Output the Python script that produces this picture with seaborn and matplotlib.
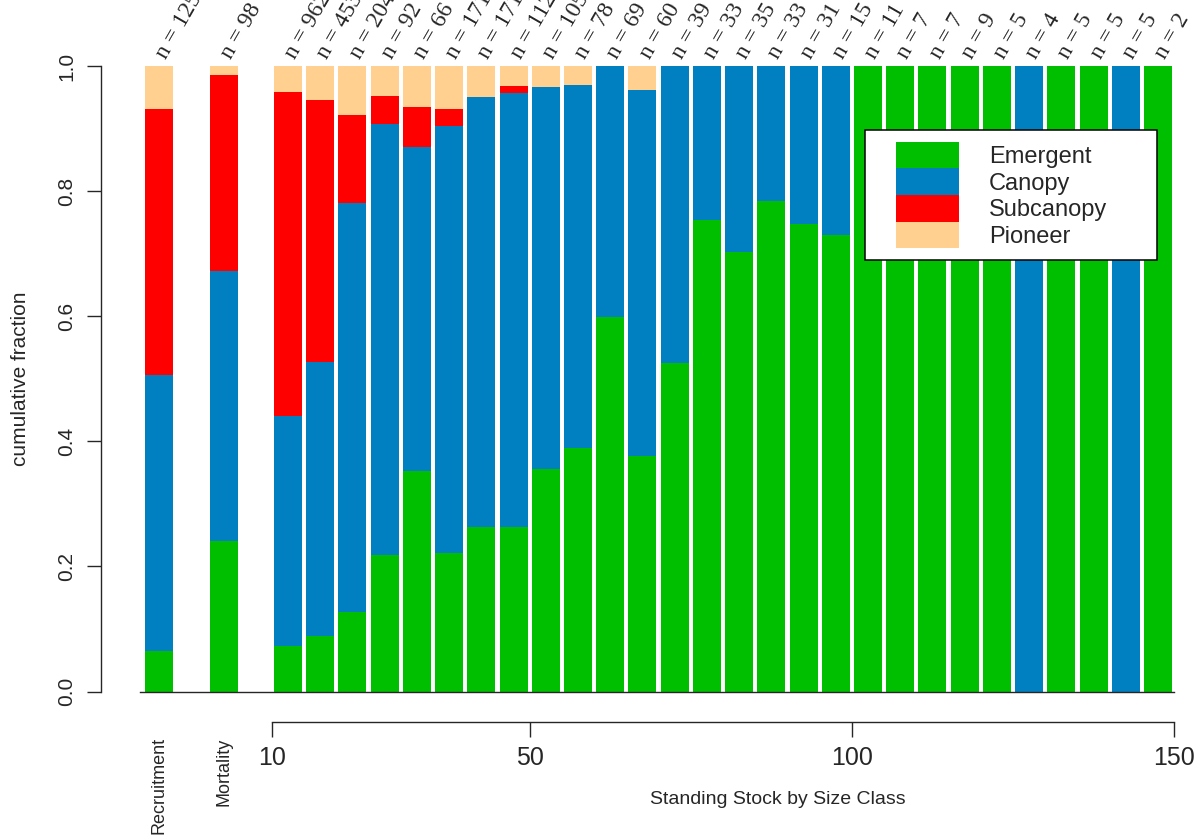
import numpy as np
import pandas as pd
import matplotlib
matplotlib.use("Agg")
import matplotlib.pyplot as plt
import matplotlib.patches as mpatches
from matplotlib.legend_handler import HandlerPatch
import seaborn as sns

# ---- data -------------------------------------------------------------
group_labels = ["Recruitment", "Mortality"]
group_n = [125, 98]
group_emergent = [0.065, 0.240]
group_canopy = [0.441, 0.432]
group_subcanopy = [0.425, 0.313]
group_pioneer = [0.069, 0.015]

# lower bound of each 5-unit size class
class_lower = [10, 15, 20, 25, 30, 35, 40, 45, 50, 55, 60, 65, 70, 75,
               80, 85, 90, 95, 100, 105, 110, 115, 120, 125, 130, 135, 140, 145]
class_n = [962, 453, 204, 92, 66, 171, 171, 112, 105, 78, 69, 60, 39, 33,
           35, 33, 31, 15, 11, 7, 7, 9, 5, 4, 5, 5, 5, 2]
class_emergent = [0.073, 0.088, 0.127, 0.218, 0.352, 0.221, 0.263, 0.263, 0.355, 0.389,
                  0.598, 0.377, 0.525, 0.754, 0.703, 0.784, 0.747, 0.730,
                  1, 1, 1, 1, 1, 0, 1, 1, 0, 1]
class_canopy = [0.367, 0.438, 0.654, 0.690, 0.519, 0.683, 0.687, 0.694, 0.611, 0.581,
                0.402, 0.585, 0.475, 0.246, 0.297, 0.216, 0.253, 0.270,
                0, 0, 0, 0, 0, 1, 0, 0, 1, 0]
class_subcanopy = [0.519, 0.419, 0.141, 0.044, 0.063, 0.027, 0.000, 0.011, 0.000, 0.000,
                   0, 0, 0, 0, 0, 0, 0, 0,
                   0, 0, 0, 0, 0, 0, 0, 0, 0, 0]
class_pioneer = [0.041, 0.055, 0.078, 0.048, 0.066, 0.069, 0.050, 0.032, 0.034, 0.030,
                 0, 0.038, 0, 0, 0, 0, 0, 0,
                 0, 0, 0, 0, 0, 0, 0, 0, 0, 0]

layer_names = ["Emergent", "Canopy", "Subcanopy", "Pioneer"]
layer_colors = ["#00BF00", "#0080C0", "#FF0000", "#FFD08F"]

# ---- layout of bar positions ------------------------------------------
class_width = 5.0
class_mid = np.array(class_lower, dtype=float) + class_width / 2
# the two summary bars sit two and four slots left of the first size class
group_x = class_mid[0] - class_width * np.array([4, 2])

x_all = np.concatenate([group_x, class_mid])
n_all = group_n + class_n
emer = np.array(group_emergent + class_emergent)
cano = np.array(group_canopy + class_canopy)
subc = np.array(group_subcanopy + class_subcanopy)
pion = np.array(group_pioneer + class_pioneer)

cum = np.vstack([emer, emer + cano, emer + cano + subc, emer + cano + subc + pion])

df = pd.DataFrame({"x": x_all,
                   "Emergent": cum[0], "Canopy": cum[1],
                   "Subcanopy": cum[2], "Pioneer": cum[3]})

# ---- figure -------------------------------------------------------------
sns.set_style("ticks")
plt.rcParams["font.family"] = ["Liberation Sans", "DejaVu Sans"]

W, H = 1201, 835
fig = plt.figure(figsize=(W / 100, H / 100), dpi=100)
ax = fig.add_axes([101 / W, (H - 691.5) / H, (1190 - 101) / W, (691.5 - 66) / H])

# stacked bars: draw cumulative totals from the top layer down
for name, col in zip(layer_names[::-1], layer_colors[::-1]):
    sns.barplot(data=df, x="x", y=name, native_scale=True, width=0.869,
                color=col, saturation=1, errorbar=None, linewidth=0,
                edgecolor="none", ax=ax)

ax.set_xlim(-16.517, 152.465)
ax.set_ylim(0, 1)
ax.set_xlabel("")
ax.set_ylabel("")

# sample sizes above each bar
for xv, nv in zip(x_all, n_all):
    ax.text(xv + 1.1, 1.01, f"n = {nv}", rotation=60, rotation_mode="anchor",
            ha="left", va="baseline", fontsize=17,
            family=["Liberation Serif", "DejaVu Serif"], clip_on=False)

# y axis
for s in ["top", "right"]:
    ax.spines[s].set_visible(False)
ax.spines["left"].set_bounds(0, 1)
ax.spines["left"].set_linewidth(1.0)
ax.set_yticks([0, 0.2, 0.4, 0.6, 0.8, 1.0])
ax.set_yticklabels(["0.0", "0.2", "0.4", "0.6", "0.8", "1.0"],
                   rotation=90, va="center")
ax.tick_params(axis="y", length=10, width=1.0, pad=8, labelsize=15)
ax.set_ylabel("cumulative fraction", fontsize=15)
ax.yaxis.set_label_coords(-0.065, 0.5)

# baseline under the bars and the two summary labels
ax.spines["bottom"].set_bounds(-10.47, 150.0)
ax.spines["bottom"].set_linewidth(1.0)
ax.set_xticks(group_x)
ax.set_xticklabels(group_labels, rotation=90, fontsize=13)
ax.tick_params(axis="x", length=0, pad=33)

# size-class axis
sec = ax.secondary_xaxis(-0.0488)
sec.set_xticks([10, 50, 100, 150])
sec.set_xticklabels(["10", "50", "100", "150"])
sec.spines["bottom"].set_bounds(10, 150)
sec.spines["bottom"].set_linewidth(1.0)
sec.tick_params(axis="x", length=11, width=1.0, pad=6, labelsize=18)
ax.text((778 - 101) / 1089, (691.5 - 800) / 625.5, "Standing Stock by Size Class",
        transform=ax.transAxes, ha="center", va="center", fontsize=14)

# legend
def swatch(legend, orig_handle, xdescent, ydescent, width, height, fontsize):
    inset = 0.237 * width
    return mpatches.Rectangle((-xdescent + inset, -ydescent), width - inset, height)

handles = [mpatches.Patch(facecolor=c, edgecolor="none", label=n)
           for n, c in zip(layer_names, layer_colors)]
leg = ax.legend(handles=handles, loc="upper left",
                bbox_to_anchor=(0.7016, 0.5, 0.2681, 0.3977), mode="expand",
                borderaxespad=0, fontsize=17, handlelength=3.48, handleheight=1.36,
                handletextpad=1.28, labelspacing=0.0, borderpad=0.5,
                fancybox=False, framealpha=1, edgecolor="black",
                handler_map={mpatches.Patch: HandlerPatch(patch_func=swatch)})
leg.get_frame().set_linewidth(1.1)

fig.savefig("out.png", dpi=100)
